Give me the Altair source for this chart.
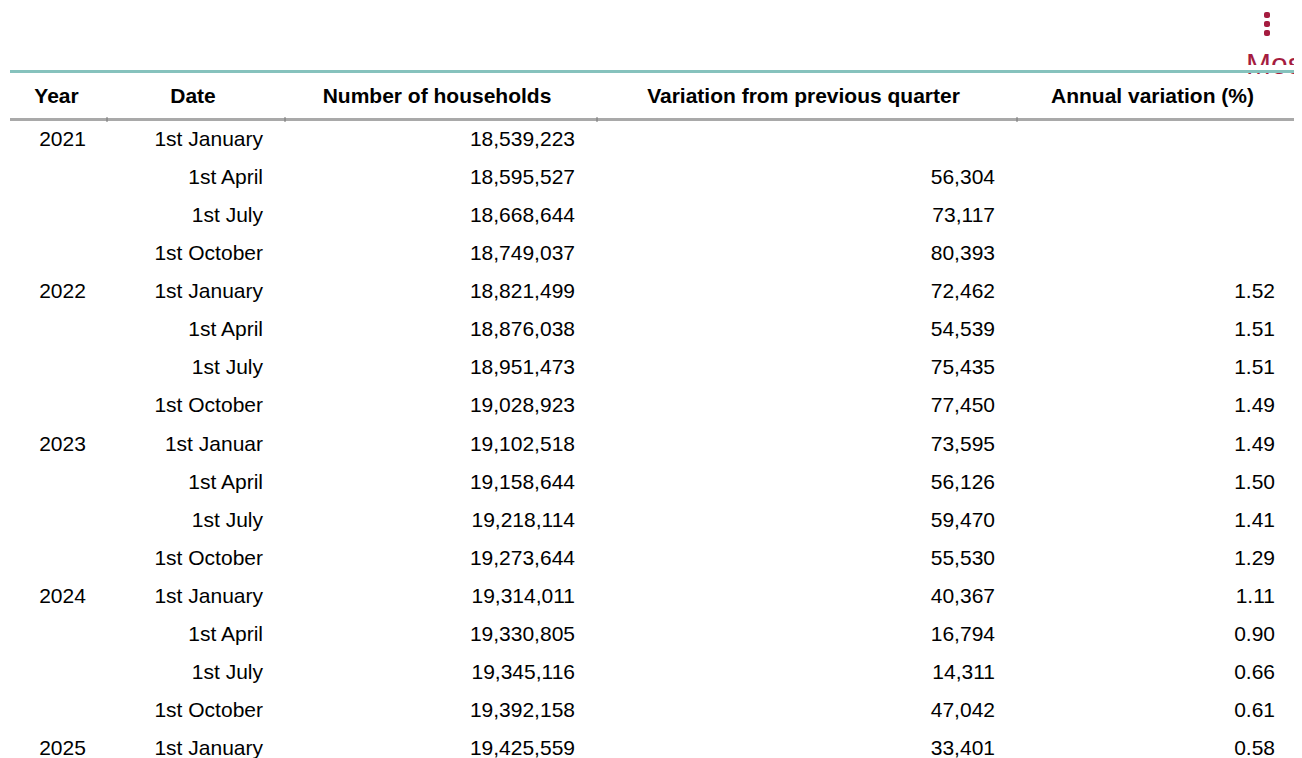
import altair as alt
import pandas as pd

# ---- table data ----
years = ["2021", "", "", "", "2022", "", "", "", "2023", "", "", "", "2024", "", "", "", "2025"]
dates = ["1st January", "1st April", "1st July", "1st October",
         "1st January", "1st April", "1st July", "1st October",
         "1st Januar", "1st April", "1st July", "1st October",
         "1st January", "1st April", "1st July", "1st October",
         "1st January"]
households = [18539223, 18595527, 18668644, 18749037,
              18821499, 18876038, 18951473, 19028923,
              19102518, 19158644, 19218114, 19273644,
              19314011, 19330805, 19345116, 19392158,
              19425559]
variation = [None, 56304, 73117, 80393,
             72462, 54539, 75435, 77450,
             73595, 56126, 59470, 55530,
             40367, 16794, 14311, 47042,
             33401]
annual = [None, None, None, None,
          1.52, 1.51, 1.51, 1.49,
          1.49, 1.50, 1.41, 1.29,
          1.11, 0.90, 0.66, 0.61,
          0.58]
headers = ["Year", "Date", "Number of households",
           "Variation from previous quarter", "Annual variation (%)"]

df = pd.DataFrame({
    "row": list(range(len(dates))),
    "year": years,
    "date": dates,
    "households": households,
    "variation": variation,
    "annual": annual,
})

FONT = "Liberation Sans"
FS = 21
W, H = 1286, 750

base = alt.Chart(df).encode(
    y=alt.Y("row:O", scale=alt.Scale(type="point", range=[138, 747], padding=0), axis=None)
)

def col_text(field, xpos, align, fmt=None, filt=None):
    c = base
    if filt:
        c = c.transform_filter(filt)
    t = alt.Text(field, format=fmt) if fmt else alt.Text(field)
    return c.mark_text(align=align, baseline="alphabetic", font=FONT, fontSize=FS,
                       color="#000000").encode(x=alt.value(xpos), text=t)

year_l = col_text("year:N", 54.5, "center", filt="datum.year != ''")
date_l = col_text("date:N", 255, "right")
hh_l = col_text("households:Q", 567, "right", fmt=",")
var_l = col_text("variation:Q", 987, "right", fmt=",", filt="isValid(datum.variation)")
ann_l = col_text("annual:Q", 1267, "right", fmt=".2f", filt="isValid(datum.annual)")

anchor = alt.Chart(pd.DataFrame({"a": [0]}))

header_x = [48.5, 185, 429, 795.5, 1144.5]
header_layers = [
    anchor.mark_text(text=h, align="center", baseline="alphabetic", font=FONT,
                     fontSize=FS, fontWeight="bold", color="#000000")
    .encode(x=alt.value(hx), y=alt.value(95))
    for h, hx in zip(headers, header_x)
]

# decorations: "Most" link text (clipped), kebab menu, rules
most = anchor.mark_text(text="Most", align="left", baseline="alphabetic", font=FONT,
                        fontSize=30, color="#a51c40").encode(x=alt.value(1238), y=alt.value(66))
cover = anchor.mark_rect(color="white").encode(
    x=alt.value(1200), x2=alt.value(W), y=alt.value(57), y2=alt.value(62))
dots = [
    anchor.mark_rect(color="#a51c40", cornerRadius=2).encode(
        x=alt.value(1256), x2=alt.value(1262), y=alt.value(yy - 3), y2=alt.value(yy + 3))
    for yy in (7, 16, 25)
]
teal = anchor.mark_rule(color="#86c2bd", strokeWidth=3).encode(
    x=alt.value(2), x2=alt.value(1287), y=alt.value(63.5))
gray = anchor.mark_rule(color="#a9a9a9", strokeWidth=3).encode(
    x=alt.value(2), x2=alt.value(1287), y=alt.value(111.5))
ticks = [
    anchor.mark_rule(color="#777777", strokeWidth=1).encode(
        x=alt.value(tx), y=alt.value(109), y2=alt.value(114))
    for tx in (99, 277, 589, 1009)
]

chart = alt.layer(
    most, cover, *dots, teal, gray, *ticks, *header_layers,
    year_l, date_l, hh_l, var_l, ann_l
).properties(
    width=W, height=H, padding=0, autosize="none", background="white"
).configure_view(stroke=None)

chart.save("out.html", embed_options={"renderer": "svg", "actions": False})
